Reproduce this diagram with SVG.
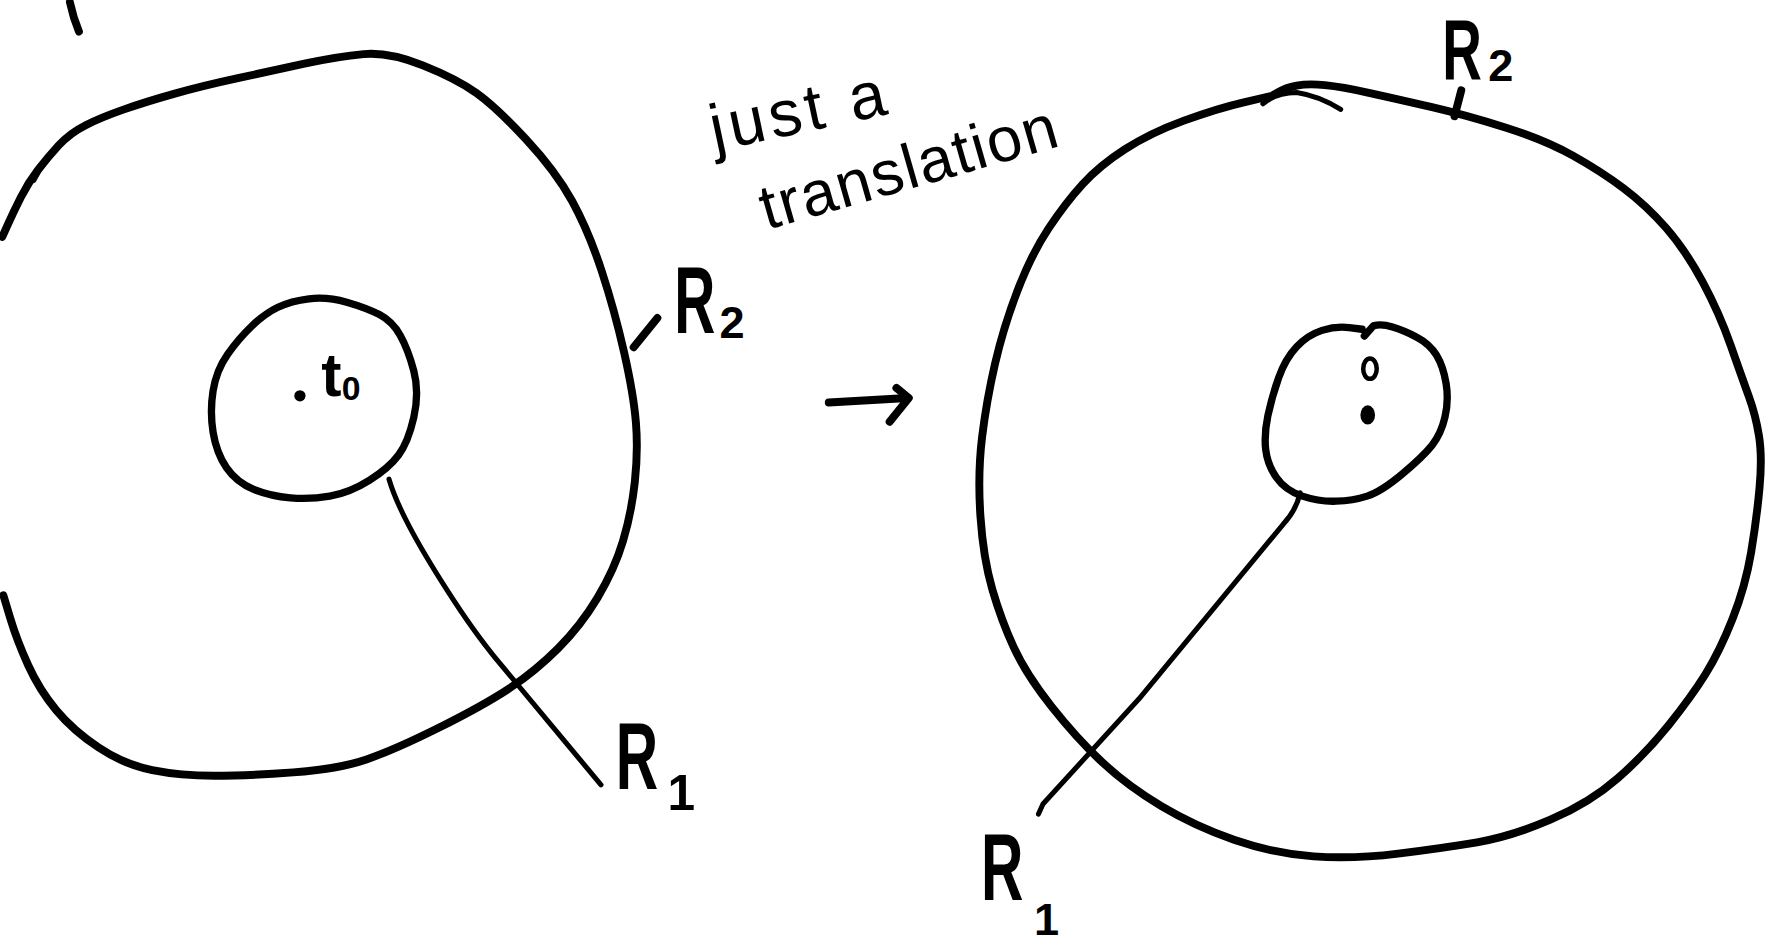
<svg xmlns="http://www.w3.org/2000/svg" width="1768" height="947" viewBox="0 0 1768 947">
<style>
.ln{fill:none;stroke:#000;stroke-linecap:round;stroke-linejoin:round}
.big{stroke-width:7}
.mid{stroke-width:6.5}
.thin{stroke-width:4.5}
.lbl{font-family:"Liberation Sans","Open Sans",sans-serif;fill:#000}
</style>
<rect width="1768" height="947" fill="#fff"/>
<g transform="scale(1.12755)">
<g id="left-outer">
<path class="ln big" d="M2,210 L7,199 Q12,188 18.5,175 Q25,162 33.5,151 Q42,140 52,129 Q62,118 76,111 Q90,104 110,97 Q130,90 155,83 Q180,76 210,69.5 Q240,63 270,56.5 Q300,50 322.5,48 Q345,46 375,58 Q405,70 422.5,82.5 Q440,95 466.5,123.5 Q493,152 507.5,178.5 Q522,205 533.5,240 Q545,275 553.5,312.5 Q562,350 564,375 Q566,400 563,427.5 Q560,455 552.5,480 Q545,505 530,530 Q515,555 495,575 Q475,595 452.5,610 Q430,625 390,645 Q350,665 325,673.5 Q300,682 260,685 Q220,688 190,688 Q160,688 135,683 Q110,678 87.5,663 Q65,648 50,630 Q35,612 25,590 Q15,568 9,548 L3,528"/>
<path class="ln thin" d="M30,160 L37,147 L45,136"/>
<path class="ln big" d="M62,2 Q65,16 70,28"/>
</g>
<g id="left-inner">
<path class="ln mid" d="M274,265 Q258,267 246.5,272.5 Q235,278 223.5,289 Q212,300 202,314 Q192,328 189,346.5 Q186,365 189,383.5 Q192,402 201,415 Q210,428 225,434 Q240,440 257.5,441.5 Q275,443 292.5,440 Q310,437 327.5,426 Q345,415 353.5,403.5 Q362,392 367,370 Q372,348 367,329 Q362,310 355,297.5 Q348,285 336.5,279 Q325,273 307.5,268 Q290,263 274,265 Z"/>
<circle cx="266" cy="351" r="5" fill="#000"/>
<text class="lbl" x="285" y="351" font-size="54" font-weight="bold">t<tspan font-size="30" dy="4">0</tspan></text>
</g>
<g id="right-outer">
<path class="ln big" d="M1128,85 L1104,90.5 Q1080,96 1050,107 Q1020,118 997.5,132.5 Q975,147 960,163.5 Q945,180 930,202.5 Q915,225 902.5,257.5 Q890,290 882.5,322.5 Q875,355 871,387.5 Q867,420 869.5,457.5 Q872,495 880,522.5 Q888,550 899,574 Q910,598 932.5,626.5 Q955,655 977.5,676 Q1000,697 1030,715 Q1060,733 1095,745 Q1130,757 1165,759.5 Q1200,762 1240,757 Q1280,752 1310,747 Q1340,742 1375,727 Q1410,712 1435,690 Q1460,668 1480,643 Q1500,618 1512.5,598 Q1525,578 1536.5,549 Q1548,520 1553,490 Q1558,460 1560.5,432.5 Q1563,405 1560,386.5 Q1557,368 1551,351.5 Q1545,335 1535,306.5 Q1525,278 1510,250 Q1495,222 1477.5,202 Q1460,182 1440,167 Q1420,152 1395,138 Q1370,124 1335,113 Q1300,102 1270,95 Q1240,88 1215,82.5 Q1190,77 1175,75.5 Q1160,74 1150,76 Q1140,78 1134,81.5 L1128,85"/>
<path class="ln thin" d="M1120,92 Q1132,82 1150,82 Q1170,85 1189,97"/>
</g>
<g id="right-inner">
<path class="ln mid" d="M1208,292 L1196.5,290.5 Q1185,289 1172.5,293 Q1160,297 1150,307.5 Q1140,318 1134,335 Q1128,352 1124.5,368.5 Q1121,385 1122.5,398.5 Q1124,412 1132,423.5 Q1140,435 1155,440 Q1170,445 1185,444.5 Q1200,444 1212.5,440 Q1225,436 1243.5,420.5 Q1262,405 1270,395 Q1278,385 1281.5,370 Q1285,355 1282.5,340 Q1280,325 1274,315 Q1268,305 1256.5,299 Q1245,293 1235,290 Q1225,287 1218,289 L1210,298"/>
<ellipse cx="1215" cy="327" rx="6" ry="9" fill="none" stroke="#000" stroke-width="4"/>
<ellipse cx="1213" cy="368" rx="6.5" ry="8.5" fill="#000"/>
</g>
<g id="connectors">
<path class="ln big" d="M735,357 L805,353"/>
<path class="ln big" d="M795,344 L806,353 L789,374"/>
<path class="ln thin" d="M345,425 Q350,442 362.5,466 Q375,490 397.5,525 Q420,560 438.5,582.5 Q457,605 495,650.5 L533,696"/>
<path class="ln big" d="M562,308 L583,282"/>
<path class="ln thin" d="M1153,437 Q1150,452 1138,465 L1010,620 L925,713 L921,722"/>
<path class="ln big" d="M1290,103 L1296,80"/>
</g>
<g id="labels">
<text class="lbl" font-size="84" font-weight="bold" transform="translate(598,295) scale(0.6,1)">R</text>
<text class="lbl" x="638" y="300" font-size="40" font-weight="bold">2</text>
<text class="lbl" font-size="84" font-weight="bold" transform="translate(546,700) scale(0.62,1)">R</text>
<text class="lbl" x="592" y="718" font-size="44" font-weight="bold">1</text>
<text class="lbl" font-size="76" font-weight="bold" transform="translate(1279,70) scale(0.64,1)">R</text>
<text class="lbl" x="1320" y="72" font-size="40" font-weight="bold">2</text>
<text class="lbl" font-size="84" font-weight="bold" transform="translate(870,798) scale(0.62,1)">R</text>
<text class="lbl" x="917" y="829" font-size="40" font-weight="bold">1</text>
<text class="lbl" x="634" y="134" font-size="58" textLength="158" lengthAdjust="spacing" transform="rotate(-12 634 134)">just a</text>
<text class="lbl" x="680" y="204" font-size="56" textLength="272" lengthAdjust="spacing" transform="rotate(-16 680 204)">translation</text>
</g>
</g>
</svg>
